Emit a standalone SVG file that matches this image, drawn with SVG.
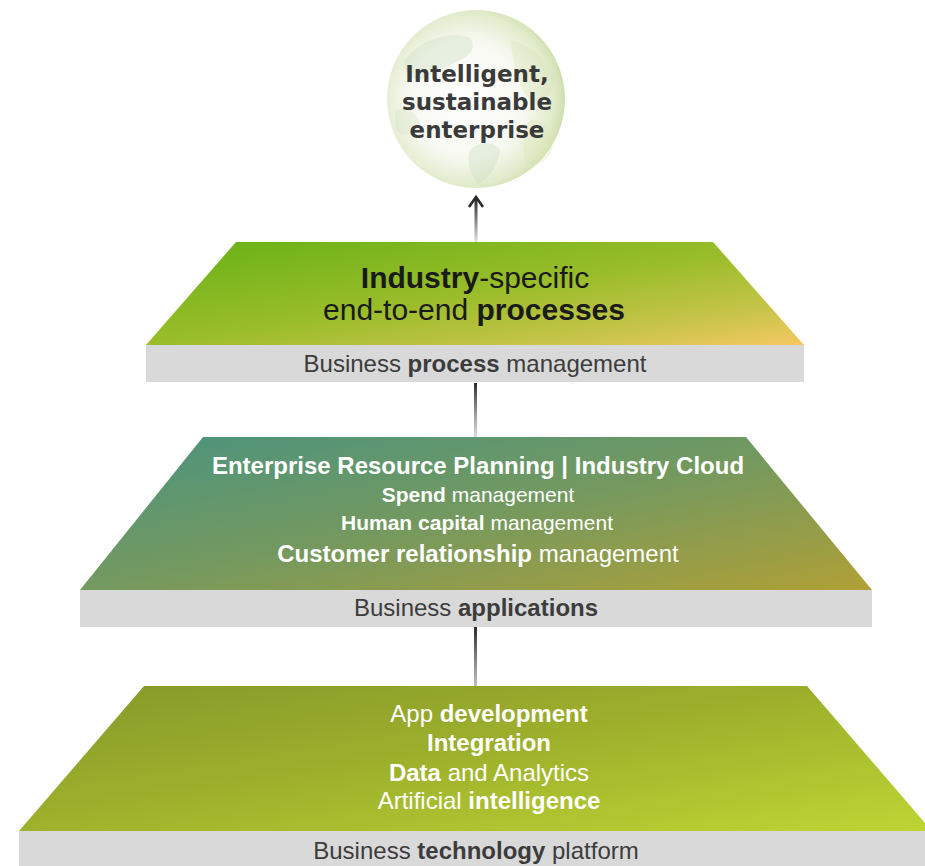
<svg xmlns="http://www.w3.org/2000/svg" width="925" height="866" viewBox="0 0 925 866">
  <defs>
    <style>
      .t { font-family: "Liberation Sans", Arial, sans-serif; text-anchor: middle; }
      .b { font-weight: bold; }
      .bar { fill: #d9d9d9; }
      .bartxt { font-size: 24px; fill: #3c3c3c; }
      .wt { fill: #ffffff; }
      .globetxt { font-family: "DejaVu Sans", Verdana, sans-serif; font-weight: bold; font-size: 23px; fill: #3a3a3a; text-anchor: middle; }
    </style>
    <linearGradient id="gTop" x1="0" y1="0" x2="1" y2="1">
      <stop offset="0" stop-color="#66b116"/>
      <stop offset="0.5" stop-color="#9abd2a"/>
      <stop offset="0.8" stop-color="#c8c44a"/>
      <stop offset="1" stop-color="#f6c862"/>
    </linearGradient>
    <linearGradient id="gMid" x1="0" y1="0" x2="1" y2="1">
      <stop offset="0" stop-color="#4a937f"/>
      <stop offset="0.5" stop-color="#74995f"/>
      <stop offset="1" stop-color="#b0a036"/>
    </linearGradient>
    <linearGradient id="gBot" x1="0" y1="0" x2="1" y2="1">
      <stop offset="0" stop-color="#85982a"/>
      <stop offset="0.5" stop-color="#9fb22c"/>
      <stop offset="1" stop-color="#bdd634"/>
    </linearGradient>
    <radialGradient id="gGlobe" cx="0.45" cy="0.5" r="0.55">
      <stop offset="0" stop-color="#ffffff"/>
      <stop offset="0.6" stop-color="#f7f9f1"/>
      <stop offset="0.88" stop-color="#e2ebcc"/>
      <stop offset="1" stop-color="#cfdfae"/>
    </radialGradient>
    <linearGradient id="gLine" x1="0" y1="0" x2="0" y2="1">
      <stop offset="0" stop-color="#2a2a2a"/>
      <stop offset="1" stop-color="#2a2a2a" stop-opacity="0.15"/>
    </linearGradient>
    <linearGradient id="gLine2" x1="0" y1="0" x2="0" y2="1">
      <stop offset="0" stop-color="#2a2a2a"/>
      <stop offset="0.6" stop-color="#555555" stop-opacity="0.5"/>
      <stop offset="1" stop-color="#555555" stop-opacity="0.1"/>
    </linearGradient>
  </defs>

  <g id="connectors">
    <rect x="474.5" y="199" width="3" height="43" fill="url(#gLine)"/>
    <path d="M469,207 L476,197 L483,207" fill="none" stroke="#2a2a2a" stroke-width="2.6" stroke-linejoin="miter"/>
    <rect x="474" y="383" width="3" height="60" fill="url(#gLine2)"/>
    <rect x="474" y="627" width="3" height="82" fill="url(#gLine2)"/>
  </g>

  <g id="globe">
    <circle cx="476" cy="99" r="89" fill="url(#gGlobe)"/>
    <g fill="#c9dcc0" opacity="0.35">
      <path d="M405,60 C420,40 450,30 470,38 C478,48 468,58 455,62 C445,70 430,72 420,80 C410,78 402,70 405,60 Z"/>
      <path d="M470,150 C480,140 495,142 500,150 C498,165 490,178 478,184 C470,175 466,160 470,150 Z"/>
      <path d="M510,40 C530,45 548,60 555,80 C552,95 540,105 530,100 C520,90 515,70 510,40 Z" fill="#d6e4b8"/>
      <path d="M530,120 C545,118 555,130 552,150 C545,165 530,170 525,160 C522,145 522,130 530,120 Z" fill="#dfe6b5"/>
      <path d="M395,110 C405,105 418,112 420,125 C415,135 402,138 396,130 Z" fill="#d4e2c4"/>
    </g>
    <text class="globetxt" x="477" y="82">Intelligent,</text>
    <text class="globetxt" x="477" y="110">sustainable</text>
    <text class="globetxt" x="477" y="138">enterprise</text>
  </g>

  <g id="layer-processes">
    <polygon points="236,242 713,242 804,345 146,345" fill="url(#gTop)"/>
    <rect class="bar" x="146" y="345" width="658" height="37"/>
    <text class="t" x="475" y="288" font-size="30" fill="#1a1a1a"><tspan class="b">Industry</tspan>-specific</text>
    <text class="t" x="474" y="320" font-size="30" fill="#1a1a1a">end-to-end <tspan class="b">processes</tspan></text>
    <text class="t bartxt" x="475" y="372">Business <tspan class="b">process</tspan> management</text>
  </g>

  <g id="layer-applications">
    <polygon points="203,437 746,437 872,590 80,590" fill="url(#gMid)"/>
    <rect class="bar" x="80" y="590" width="792" height="37"/>
    <text class="t wt b" x="478" y="474" font-size="24">Enterprise Resource Planning | Industry Cloud</text>
    <text class="t wt" x="478" y="502" font-size="21"><tspan class="b">Spend</tspan> management</text>
    <text class="t wt" x="477" y="530" font-size="21"><tspan class="b">Human capital</tspan> management</text>
    <text class="t wt" x="478" y="562" font-size="24"><tspan class="b">Customer relationship</tspan> management</text>
    <text class="t bartxt" x="476" y="616">Business <tspan class="b">applications</tspan></text>
  </g>

  <g id="layer-platform">
    <polygon points="144,686 807,686 932,831 19,831" fill="url(#gBot)"/>
    <rect class="bar" x="19" y="831" width="920" height="40"/>
    <text class="t wt" x="489" y="722" font-size="24">App <tspan class="b">development</tspan></text>
    <text class="t wt b" x="489" y="751" font-size="24">Integration</text>
    <text class="t wt" x="489" y="781" font-size="24"><tspan class="b">Data</tspan> and Analytics</text>
    <text class="t wt" x="489" y="809" font-size="24">Artificial <tspan class="b">intelligence</tspan></text>
    <text class="t bartxt" x="476" y="859">Business <tspan class="b">technology</tspan> platform</text>
  </g>
</svg>
